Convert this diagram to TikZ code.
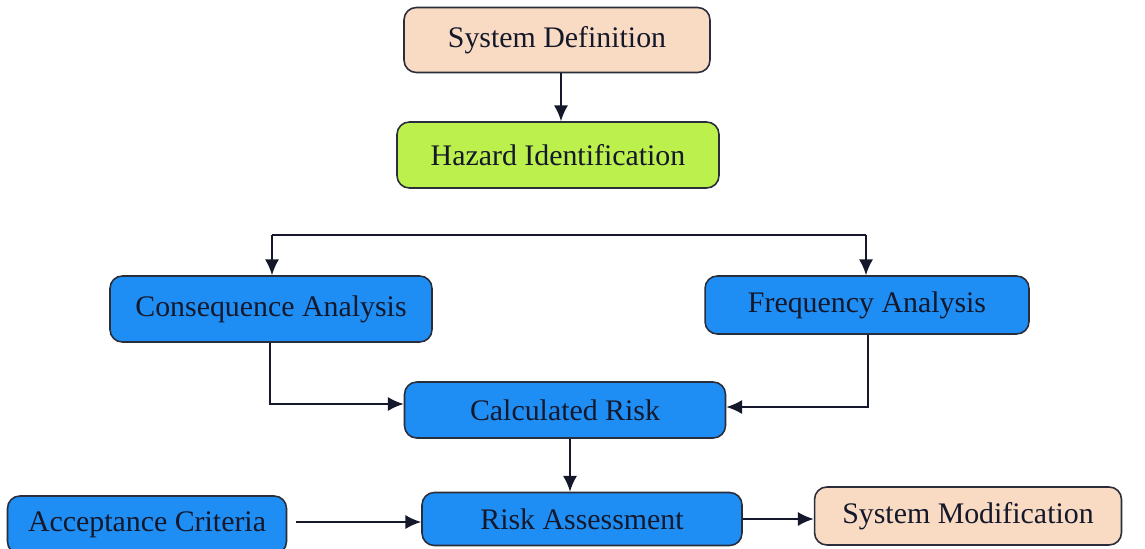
\documentclass[tikz,border=0pt]{standalone}
\usepackage{fontspec}
\setmainfont{Liberation Serif}
\usetikzlibrary{arrows.meta}
\definecolor{peach}{HTML}{F9DBC3}
\definecolor{lime}{HTML}{BCF04C}
\definecolor{skyblue}{HTML}{1E8EF5}
\definecolor{edge}{HTML}{2A2D3A}
\definecolor{ink}{HTML}{14182A}
\begin{document}
\begin{tikzpicture}[x=0.02cm,y=-0.02cm,
  box/.style={draw=edge,line width=0.9pt,rounded corners=7pt,inner sep=0pt,
    text=ink,font=\fontsize{17}{20}\selectfont},
  bluebox/.style={box,fill=skyblue},
  flow/.style={draw=ink,line width=1.1pt,-{Latex[length=9pt,width=8pt]}},
  link/.style={draw=ink,line width=1.1pt}]
\clip (0,0) rectangle (1145,548);
\fill[white] (0,0) rectangle (1145,548);

% process boxes
\node[box,fill=peach,minimum width=6.12cm,minimum height=1.3cm] (sysdef) at (557,40) {System Definition};
\node[box,fill=lime,minimum width=6.44cm,minimum height=1.32cm] (hazard) at (558,155) {Hazard Identification};
\node[bluebox,minimum width=6.44cm,minimum height=1.32cm] (conseq) at (271,309) {Consequence Analysis};
\node[bluebox,minimum width=6.48cm,minimum height=1.16cm] (freq) at (867,305) {Frequency Analysis};
\node[bluebox,minimum width=6.42cm,minimum height=1.12cm] (calc) at (565,410) {Calculated Risk};
\node[bluebox,minimum width=6.4cm,minimum height=1.06cm] (assess) at (582,519) {Risk Assessment};
\node[bluebox,minimum width=5.58cm,minimum height=1.16cm] (accept) at (147,525) {Acceptance Criteria};
\node[box,fill=peach,minimum width=6.14cm,minimum height=1.16cm] (modif) at (968,516) {System Modification};

% split bar feeding the two analyses
\coordinate (barL) at (272,235);
\coordinate (barR) at (866,235);
\draw[link] (barL) -- (barR);
\draw[flow] (barL) -- (conseq.north -| barL);
\draw[flow] (barR) -- (freq.north -| barR);

% connectors
\draw[flow] (sysdef.south) ++(4,0) coordinate (sd) -- (sd |- hazard.north);
\draw[flow] (conseq.south -| 270,0) |- (calc.west |- 0,404);
\draw[flow] (freq.south -| 868,0) |- (calc.east |- 0,407);
\draw[flow] (calc.south -| 570,0) -- (assess.north -| 570,0);
\draw[flow] ([xshift=5pt]accept.east |- 0,522) -- (assess.west |- 0,522);
\draw[flow] (assess.east |- 0,519) -- (modif.west |- 0,519);
\end{tikzpicture}
\end{document}
